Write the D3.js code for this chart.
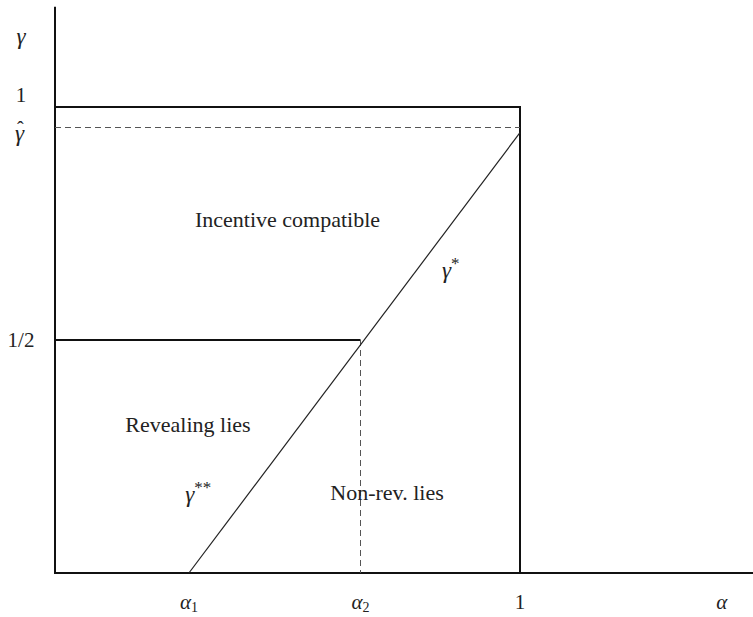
<!DOCTYPE html>
<html>
<head>
<meta charset="utf-8">
<script src="https://cdn.jsdelivr.net/npm/d3@7"></script>
<style>
body { margin: 0; background: #fff; }
svg { font-family: "Liberation Serif", "DejaVu Serif", serif; }
</style>
</head>
<body>
<div class="container"></div>
<script>
// values (alpha on x, gamma on y)
const alpha1 = 0.288, alpha2 = 0.657
const gammaHat = 0.956, gammaHalf = 0.5, gammaEnd = 0.945
const xTicks = [{v: alpha1, t: "α", sub: "1"}, {v: alpha2, t: "α", sub: "2"}, {v: 1, t: "1", sub: ""}, {v: 1.434, t: "α", sub: ""}]
const yTicks = [{v: 1.136, t: "γ"}, {v: 1.011, t: "1"}, {v: 0.927, t: "γ", hat: true}, {v: 0.485, t: "1/2"}]
const regionLabels = [
  {x: 0.5, y: 0.742, t: "Incentive compatible"},
  {x: 0.286, y: 0.303, t: "Revealing lies"},
  {x: 0.714, y: 0.157, t: "Non-rev. lies"}
]
const curveNames = [{x: 0.832, y: 0.633, s: "*"}, {x: 0.28, y: 0.152, s: "**"}]

const w = 753, h = 617
const xScale = d3.scaleLinear().domain([0, 1]).range([55, 520])
const yScale = d3.scaleLinear().domain([0, 1]).range([573, 107])

const svg = d3.select(".container").append("svg")
  .attr("width", w).attr("height", h)

// axes
svg.append("line")
  .attr("x1", xScale(0)).attr("x2", xScale(0))
  .attr("y1", yScale(1.215)).attr("y2", yScale(0))
  .attr("stroke", "#111").attr("stroke-width", 2)
svg.append("line")
  .attr("x1", xScale(0) - 1).attr("x2", w)
  .attr("y1", yScale(0)).attr("y2", yScale(0))
  .attr("stroke", "#111").attr("stroke-width", 2)

// box: gamma = 1 top and alpha = 1 side
svg.append("path")
  .attr("d", `M${xScale(0)},${yScale(1)}H${xScale(1)}V${yScale(0)}`)
  .attr("fill", "none").attr("stroke", "#111").attr("stroke-width", 2)

// gamma = 1/2 line
svg.append("line")
  .attr("x1", xScale(0)).attr("x2", xScale(alpha2))
  .attr("y1", yScale(gammaHalf)).attr("y2", yScale(gammaHalf))
  .attr("stroke", "#111").attr("stroke-width", 2)

// dashed lines
svg.append("line")
  .attr("x1", xScale(0)).attr("x2", xScale(1))
  .attr("y1", yScale(gammaHat)).attr("y2", yScale(gammaHat))
  .attr("stroke", "#555").attr("stroke-width", 1).attr("stroke-dasharray", "6,4")
svg.append("line")
  .attr("x1", xScale(alpha2)).attr("x2", xScale(alpha2))
  .attr("y1", yScale(gammaHalf)).attr("y2", yScale(0))
  .attr("stroke", "#555").attr("stroke-width", 1).attr("stroke-dasharray", "6,4")

// gamma* / gamma** line
svg.append("line")
  .attr("x1", xScale(alpha1)).attr("y1", yScale(0))
  .attr("x2", xScale(1)).attr("y2", yScale(gammaEnd))
  .attr("stroke", "#222").attr("stroke-width", 1.2)

// tick labels
const xt = svg.selectAll(".xt").data(xTicks).enter().append("text")
  .attr("x", d => xScale(d.v)).attr("y", 609)
  .attr("text-anchor", "middle").attr("font-size", 21).attr("fill", "#222")
xt.append("tspan").attr("font-style", d => (d.t === "α" ? "italic" : "normal")).text(d => d.t)
xt.append("tspan").attr("font-size", 14).attr("dy", 3).text(d => d.sub)

const yt = svg.selectAll(".yt").data(yTicks).enter().append("text")
  .attr("x", d => d.hat ? 15 : 21).attr("y", d => yScale(d.v))
  .attr("text-anchor", d => d.hat ? "start" : "middle")
  .attr("font-size", d => d.t === "γ" ? 23 : 21).attr("fill", "#222")
  .attr("font-style", d => d.t === "γ" ? "italic" : "normal")
yt.append("tspan").text(d => d.t)
// hat over gamma-hat
yt.filter(d => d.hat).append("tspan")
  .attr("x", 17).attr("dy", -5).attr("font-size", 20).attr("font-style", "normal")
  .text("ˆ")

// region labels
svg.selectAll(".rl").data(regionLabels).enter().append("text")
  .attr("x", d => xScale(d.x)).attr("y", d => yScale(d.y))
  .attr("text-anchor", "middle").attr("font-size", 22).attr("fill", "#222")
  .text(d => d.t)

// curve names
const cn = svg.selectAll(".cn").data(curveNames).enter().append("text")
  .attr("x", d => xScale(d.x)).attr("y", d => yScale(d.y))
  .attr("font-size", 23).attr("fill", "#222")
cn.append("tspan").attr("font-style", "italic").text("γ")
cn.append("tspan").attr("font-size", 17).attr("dy", -9).text(d => d.s)
</script>
</body>
</html>
